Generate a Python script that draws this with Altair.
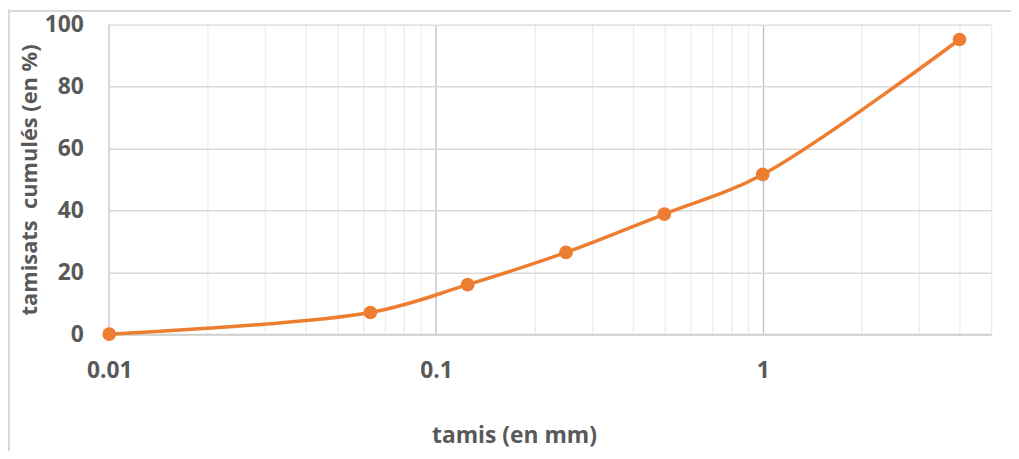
import altair as alt
import pandas as pd

# data
tamis = [0.01, 0.063, 0.125, 0.25, 0.5, 1, 4]
tamisats = [0, 7, 16, 26.4, 38.8, 51.6, 95.2]

grid_values = [0.01, 0.02, 0.03, 0.04, 0.05, 0.06, 0.07, 0.08, 0.09,
               0.1, 0.2, 0.3, 0.4, 0.5, 0.6, 0.7, 0.8, 0.9,
               1, 2, 3, 4, 5]
y_ticks = [0, 20, 40, 60, 80, 100]

df = pd.DataFrame({"tamis": tamis, "tamisats": tamisats})

FONT = "Open Sans"
GREY = "#595959"
ORANGE = "#ED7D31"

x_enc = alt.X(
    "tamis:Q",
    scale=alt.Scale(type="log", domain=[0.01, 5], nice=False, zero=False),
    axis=alt.Axis(
        values=grid_values,
        labelExpr="(datum.value == 0.01 || datum.value == 0.1 || datum.value == 1) ? format(datum.value, '~g') : ''",
        ticks=False,
        grid=True,
        gridColor={"condition": {"test": "datum.value == 0.1 || datum.value == 1", "value": "#bfbfbf"},
                   "value": "#ececec"},
        gridWidth=1.3,
        domainColor="#d0d0d0",
        domainWidth=2,
        labelFont=FONT, labelFontWeight="bold", labelFontSize=23, labelColor=GREY,
        labelPadding=26, labelOverlap=False, labelFlush=False,
        title="tamis (en mm)",
        titleFont=FONT, titleFontWeight="bold", titleFontSize=23, titleColor=GREY,
        titleX=408, titleY=102, titleBaseline="middle", titleAnchor="middle", titleAlign="center",
    ),
)

y_enc = alt.Y(
    "tamisats:Q",
    scale=alt.Scale(domain=[0, 100], nice=False),
    axis=alt.Axis(
        values=y_ticks,
        ticks=False,
        domain=False,
        grid=True,
        gridColor="#d9d9d9",
        gridWidth=1.5,
        labelFont=FONT, labelFontWeight="bold", labelFontSize=23, labelColor=GREY,
        labelPadding=26,
        title="tamisats\u00a0 cumulés (en %)",
        titleFont=FONT, titleFontWeight="bold", titleFontSize=22, titleColor=GREY,
        titleX=-80, titleY=156, titleBaseline="middle", titleAngle=270,
    ),
)

line = alt.Chart(df).mark_line(
    color=ORANGE, strokeWidth=3.5, interpolate="catmull-rom"
).encode(x=x_enc, y=y_enc)

points = alt.Chart(df).mark_point(
    filled=True, color=ORANGE, size=190, opacity=1
).encode(x="tamis:Q", y="tamisats:Q")

left_grid = alt.Chart(df).mark_rule(color="#d9d9d9", strokeWidth=1.5).encode(
    x=alt.value(0), y=alt.value(0), y2=alt.value(312)
)

frame_top = alt.Chart(df).mark_rule(color="#d9d9d9", strokeWidth=1.5).encode(
    x=alt.value(-102), x2=alt.value(920), y=alt.value(-14)
)
frame_left = alt.Chart(df).mark_rule(color="#d9d9d9", strokeWidth=1.5).encode(
    x=alt.value(-101), y=alt.value(-15), y2=alt.value(440)
)

chart = alt.layer(left_grid, frame_top, frame_left, line, points).properties(
    width=889,
    height=312,
    autosize=alt.AutoSizeParams(type="none"),
    padding={"left": 102, "top": 15, "right": 20, "bottom": 116},
    background="white",
).configure_view(stroke=None)

chart.save("out.html", embed_options={"renderer": "svg", "actions": False})
